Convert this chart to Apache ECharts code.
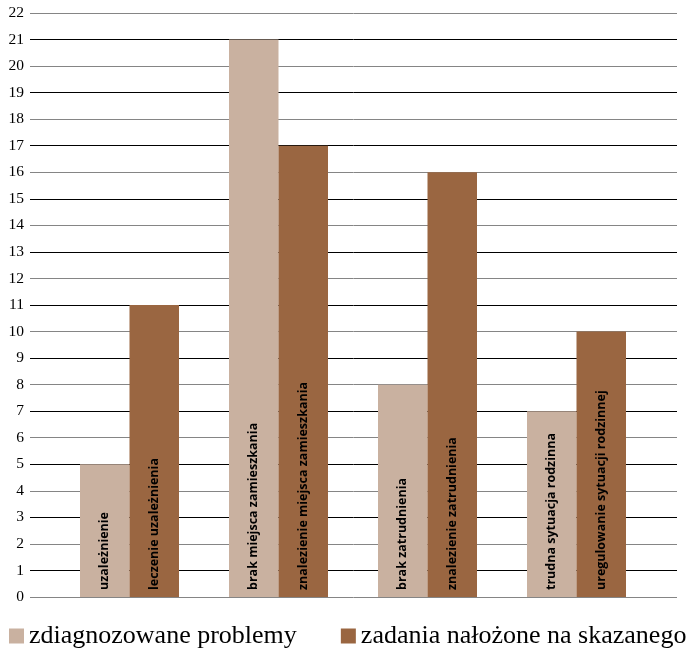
<!DOCTYPE html>
<html>
<head>
<meta charset="utf-8">
<script src="https://cdn.jsdelivr.net/npm/echarts@6/dist/echarts.min.js"></script>
<style>html,body{margin:0;padding:0;background:#fff;}#c{width:696px;height:651px;}</style>
</head>
<body>
<div id="c"></div>
<script>
const categories = ['uzależnienie', 'brak miejsca zamieszkania', 'brak zatrudnienia', 'trudna sytuacja rodzinna'];
const seriesNames = ['zdiagnozowane problemy', 'zadania nałożone na skazanego'];
const problemLabels = ['uzależnienie', 'brak miejsca zamieszkania', 'brak zatrudnienia', 'trudna sytuacja rodzinna'];
const taskLabels = ['leczenie uzależnienia', 'znalezienie miejsca zamieszkania', 'znalezienie zatrudnienia', 'uregulowanie sytuacji rodzinnej'];
const problemValues = [5, 21, 8, 7];
const taskValues = [11, 17, 16, 10];
const yMin = 0, yMax = 22, yStep = 1;

const colors = ['#C9B1A0', '#9A6641'];
const labelFont = '"Liberation Sans Narrow", "Open Sans", sans-serif';

function mkLabel(texts) {
  return {
    show: true,
    position: 'insideBottom',
    distance: 7,
    rotate: 90,
    align: 'left',
    verticalAlign: 'middle',
    fontFamily: labelFont,
    fontWeight: 'bold',
    fontSize: 12.5,
    color: '#000',
    formatter: p => texts[p.dataIndex]
  };
}

const chart = echarts.init(document.getElementById('c'), null, {renderer: 'canvas'});
chart.setOption({
  animation: false,
  color: colors,
  grid: [
    {left: 30, right: 19, top: 13, bottom: 54},
    {left: 55, right: 45, top: 13, bottom: 54}
  ],
  xAxis: [
    {gridIndex: 0, type: 'value', min: 0, max: 1, show: false},
    {gridIndex: 1, type: 'category', data: categories, show: false}
  ],
  yAxis: [
    {
      gridIndex: 0, type: 'value', min: yMin, max: yMax, interval: yStep,
      axisLine: {show: false}, axisTick: {show: false},
      axisLabel: {fontFamily: '"Liberation Serif", serif', fontSize: 15.5, color: '#000', margin: 6},
      splitLine: {lineStyle: {color: ['#858585', '#000000'], width: 1}}
    },
    {gridIndex: 1, type: 'value', min: yMin, max: yMax, show: false}
  ],
  legend: {
    left: 4, top: 618,
    itemWidth: 15, itemHeight: 15, itemGap: 44,
    icon: 'rect',
    textStyle: {fontFamily: '"Liberation Serif", serif', fontSize: 26, color: '#000'},
    data: seriesNames
  },
  series: [
    {
      name: seriesNames[0], type: 'bar', xAxisIndex: 1, yAxisIndex: 1,
      barWidth: 49.5, barGap: '0%',
      data: problemValues,
      label: mkLabel(problemLabels)
    },
    {
      name: seriesNames[1], type: 'bar', xAxisIndex: 1, yAxisIndex: 1,
      barWidth: 49.5, barGap: '0%',
      data: taskValues,
      label: mkLabel(taskLabels)
    }
  ]
});
</script>
</body>
</html>
